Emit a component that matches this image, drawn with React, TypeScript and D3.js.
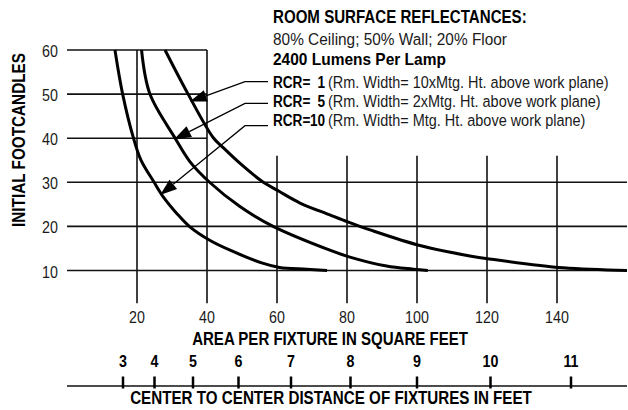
import React, { useEffect, useRef } from 'react'
import * as d3 from 'd3'

// curves: area per fixture (sq ft) vs initial footcandles
const rcr1Area = [28, 34.6, 41.8, 44.7, 49.7, 55.6, 60.7, 66.6, 75.1, 80.6, 86.6, 101.1, 115.1, 120.8, 141.8, 160]
const rcr1Fc = [60, 50, 40.1, 37.8, 34.1, 30.3, 27.9, 25.3, 22.6, 20.9, 19.2, 15.6, 13.3, 12.6, 10.6, 10]
const rcr5Area = [21.3, 23.7, 30.9, 35.1, 40.9, 49.4, 58.9, 75.1, 80.6, 91.3, 98.9, 103.1]
const rcr5Fc = [60, 50, 40, 34.7, 29.9, 24.5, 20, 14.6, 13.1, 11.0, 10.3, 10]
const rcr10Area = [13.7, 15.9, 19.0, 21.1, 24.9, 27.5, 31.3, 35.1, 40.9, 46.6, 56.1, 60.7, 68.5, 74.3]
const rcr10Fc = [60, 50, 40, 35.1, 30, 26.7, 23.0, 19.9, 16.8, 14.6, 11.6, 10.7, 10.3, 10]

const yTicks = [10, 20, 30, 40, 50, 60]
const yGridEnd = [160, 160, 160, 40, 40, 40] // how far each horizontal line runs
const xTicks = [20, 40, 60, 80, 100, 120, 140]
const xGridTop = [60, 60, 36, 36, 36, 36, 36]

// spacing scale: distance labels sit at these area values
const spacingLabels = ['3', '4', '5', '6', '7', '8', '9', '10', '11']
const spacingArea = [16, 25, 36, 49, 64, 81, 100, 121, 144]

const rcrNames = ['1', '5', '10']
const rcrNotes = [
  '(Rm. Width= 10xMtg. Ht. above work plane)',
  '(Rm. Width= 2xMtg. Ht. above work plane)',
  '(Rm. Width= Mtg. Ht. above work plane)',
]
// arrow tips, in data units
const arrowArea = [35.1, 30.6, 26.6]
const arrowFc = [48.3, 39.75, 27.1]

const W = 628
const H = 410
const FONT = "'Liberation Sans', Arial, Helvetica, sans-serif"

type G = d3.Selection<any, unknown, null, undefined>

// draws text condensed horizontally; if width is given the squeeze is fitted to it
function label(
  g: G, str: string, x: number, y: number, size: number, bold: boolean,
  anchor: string, width?: number, sx = 0.82, rotate = 0
): number {
  const t = g.append('text')
    .attr('text-anchor', anchor)
    .style('font-family', FONT)
    .style('font-size', size + 'px')
    .style('font-weight', bold ? 700 : 400)
    .attr('fill', bold ? '#000' : '#1a1a1a')
    .text(str)
  let k = sx
  if (width) k = width / ((t.node() as SVGTextElement).getComputedTextLength() || 1)
  t.attr('transform', `translate(${x},${y}) rotate(${rotate}) scale(${k},1)`)
  return k
}

export default function App() {
  const ref = useRef<SVGSVGElement | null>(null)

  useEffect(() => {
    document.body.style.margin = '0'
    if (!ref.current) return
    const svg = d3.select(ref.current)
    svg.selectAll('*').remove()

    const x = d3.scaleLinear().domain([0, 160]).range([67, 627])
    const y = d3.scaleLinear().domain([10, 60]).range([270.5, 50])
    const yBottom = 2.6 // vertical lines run a little below the 10 line

    const grid = svg.append('g').attr('stroke', '#111').attr('stroke-width', 1.6)
    yTicks.forEach((v, i) => {
      grid.append('line')
        .attr('x1', x(0)).attr('x2', x(yGridEnd[i]))
        .attr('y1', y(v)).attr('y2', y(v))
    })
    xTicks.forEach((v, i) => {
      grid.append('line')
        .attr('x1', x(v)).attr('x2', x(v))
        .attr('y1', y(xGridTop[i])).attr('y2', y(yBottom))
    })

    const txt = svg.append('g')

    // tick labels
    yTicks.forEach((v) => label(txt, String(v), 58, y(v) + 7, 17, false, 'end', undefined, 0.84))
    xTicks.forEach((v) => label(txt, String(v), x(v), 322.5, 17, false, 'middle', undefined, 0.84))

    // curves
    const line = d3.line<[number, number]>()
      .x((d) => x(d[0]))
      .y((d) => y(d[1]))
      .curve(d3.curveCatmullRom.alpha(0.5))
    const series: [number[], number[]][] = [
      [rcr1Area, rcr1Fc],
      [rcr5Area, rcr5Fc],
      [rcr10Area, rcr10Fc],
    ]
    series.forEach(([xs, ys]) => {
      const pts = xs.map((v, i) => [v, ys[i]] as [number, number])
      svg.append('path')
        .attr('d', line(pts) || '')
        .attr('fill', 'none')
        .attr('stroke', '#000')
        .attr('stroke-width', 3)
        .attr('stroke-linejoin', 'round')
    })

    // header text block
    const tx = 273
    label(txt, 'ROOM SURFACE REFLECTANCES:', tx, 22.5, 17.5, true, 'start', 254)
    label(txt, '80% Ceiling; 50% Wall; 20% Floor', tx, 44.5, 17, false, 'start', 234)
    label(txt, '2400 Lumens Per Lamp', tx, 64.5, 17, true, 'start', 173)

    const rowY = [88.3, 107.3, 125.5]
    const leadY = [81.7, 103.3, 125.7]
    let noteK = 0
    rcrNames.forEach((name, i) => {
      label(txt, 'RCR=', tx, rowY[i], 17, true, 'start', undefined, 0.8)
      label(txt, name, 325, rowY[i], 17, true, 'end', undefined, 0.8)
      if (i === 0) noteK = label(txt, rcrNotes[i], 328, rowY[i], 17, false, 'start', 281)
      else label(txt, rcrNotes[i], 328, rowY[i], 17, false, 'start', undefined, noteK)

      // leader with arrow
      const ex = 245
      const ey = leadY[i]
      const px = x(arrowArea[i])
      const py = y(arrowFc[i])
      const dx = ex - px
      const dy = ey - py
      const len = Math.hypot(dx, dy)
      const ux = dx / len
      const uy = dy / len
      const L = 17
      const w = 6
      const bx = px + ux * L
      const by = py + uy * L
      svg.append('polyline')
        .attr('points', `268,${ey} ${ex},${ey} ${bx},${by}`)
        .attr('fill', 'none')
        .attr('stroke', '#000')
        .attr('stroke-width', 1.3)
      svg.append('polygon')
        .attr('points', `${px},${py} ${bx - uy * w},${by + ux * w} ${bx + uy * w},${by - ux * w}`)
        .attr('fill', '#000')
    })

    // axis titles
    label(txt, 'AREA PER FIXTURE IN SQUARE FEET', 330, 344.5, 17.5, true, 'middle', 276)
    label(txt, 'INITIAL FOOTCANDLES', 25, 140, 18.5, true, 'middle', 174, 0.82, -90)

    // spacing scale
    const sY = 386
    svg.append('line')
      .attr('x1', x(0)).attr('x2', x(160))
      .attr('y1', sY).attr('y2', sY)
      .attr('stroke', '#111').attr('stroke-width', 1.5)
    svg.append('g')
      .selectAll('line')
      .data(spacingArea)
      .join('line')
      .attr('x1', (d) => x(d)).attr('x2', (d) => x(d))
      .attr('y1', 376.5).attr('y2', 388.5)
      .attr('stroke', '#000').attr('stroke-width', 2.5)
    spacingArea.forEach((a, i) => label(txt, spacingLabels[i], x(a), 366.5, 17, true, 'middle', undefined, 0.84))
    label(txt, 'CENTER TO CENTER DISTANCE OF FIXTURES IN FEET', 331, 404, 17.5, true, 'middle', 402)
  }, [])

  return <svg ref={ref} width={W} height={H} style={{ display: 'block', background: '#fff' }} />
}
